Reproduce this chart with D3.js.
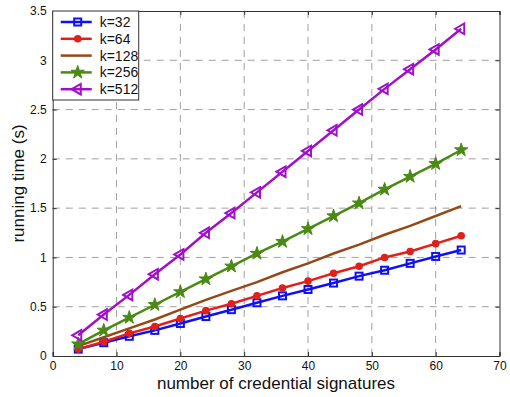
<!DOCTYPE html>
<html><head><meta charset="utf-8">
<script src="https://cdn.jsdelivr.net/npm/d3@7"></script>
<style>body{margin:0;background:#fff;font-family:"Liberation Sans",Arial,sans-serif}</style>
</head><body><svg id="c" width="510" height="397"></svg>
<script>
const xs = [4,8,12,16,20,24,28,32,36,40,44,48,52,56,60,64];
const k32  = [0.07,0.135,0.20,0.26,0.33,0.40,0.47,0.54,0.61,0.675,0.74,0.81,0.87,0.94,1.01,1.075];
const k64  = [0.07,0.145,0.23,0.30,0.38,0.46,0.53,0.61,0.69,0.76,0.84,0.91,1.00,1.06,1.14,1.22];
const k128 = [0.10,0.19,0.28,0.37,0.47,0.57,0.66,0.75,0.85,0.94,1.04,1.13,1.23,1.32,1.42,1.52];
const k256 = [0.12,0.26,0.39,0.52,0.65,0.78,0.91,1.04,1.16,1.29,1.42,1.55,1.69,1.82,1.95,2.09];
const k512 = [0.21,0.42,0.62,0.83,1.03,1.25,1.45,1.66,1.87,2.08,2.29,2.50,2.71,2.91,3.11,3.32];
const seriesNames = ["k=32","k=64","k=128","k=256","k=512"];
const xTicks = [0,10,20,30,40,50,60,70];
const yTicks = [0,0.5,1,1.5,2,2.5,3,3.5];

const series = [
  {name:seriesNames[0], v:k32,  color:"#1010f0", marker:"square"},
  {name:seriesNames[1], v:k64,  color:"#e0201a", marker:"circle"},
  {name:seriesNames[2], v:k128, color:"#944a18", marker:"none"},
  {name:seriesNames[3], v:k256, color:"#4a8a12", marker:"star"},
  {name:seriesNames[4], v:k512, color:"#a010c8", marker:"tri"}
];

const L=52.7,R=499.5,T=11,B=356;
const svg=d3.select("#c");
const x=d3.scaleLinear().domain([0,70]).range([L,R]);
const y=d3.scaleLinear().domain([0,3.5]).range([B,T]);

// grid
const g=svg.append("g");
xTicks.slice(1,-1).forEach(t=>g.append("line").attr("x1",x(t)).attr("x2",x(t)).attr("y1",B).attr("y2",T)
  .attr("stroke","#888").attr("stroke-dasharray","7,6").attr("stroke-width",0.8));
yTicks.slice(1,-1).forEach(t=>g.append("line").attr("x1",L).attr("x2",R).attr("y1",y(t)).attr("y2",y(t))
  .attr("stroke","#888").attr("stroke-dasharray","7,6").attr("stroke-width",0.8));

// axes
svg.append("g").attr("transform",`translate(0,${B})`)
  .call(d3.axisBottom(x).tickValues(xTicks).tickSize(-4).tickPadding(5).tickFormat(d3.format("d")));
svg.append("g").attr("transform",`translate(${L},0)`)
  .call(d3.axisLeft(y).tickValues(yTicks).tickSize(-4).tickPadding(6).tickFormat(d=>String(d)));
svg.append("g").attr("transform",`translate(0,${T})`).call(d3.axisTop(x).tickValues(xTicks).tickSize(-4).tickFormat(""));
svg.append("g").attr("transform",`translate(${R},0)`).call(d3.axisRight(y).tickValues(yTicks).tickSize(-4).tickFormat(""));
svg.selectAll(".domain").attr("stroke","#333");
svg.selectAll(".tick line").attr("stroke","#333");
svg.selectAll(".tick text").attr("font-size","12px").attr("fill","#111").attr("font-family","Liberation Sans, Arial, sans-serif");

// labels
svg.append("text").attr("x",276).attr("y",389).attr("text-anchor","middle")
  .attr("font-size","17px").attr("fill","#111").text("number of credential signatures");
svg.append("text").attr("transform",`translate(24,${(T+B)/2}) rotate(-90)`).attr("text-anchor","middle")
  .attr("font-size","17px").attr("fill","#111").text("running time (s)");

const line=d3.line().x((d,i)=>x(xs[i])).y(d=>y(d));
const star=d3.symbol().type(d3.symbolStar).size(55)();
const tri=d3.symbol().type(d3.symbolTriangle).size(48)();
function drawMarker(sel,m,color){
  if(m==="square") sel.append("rect").attr("x",-3.5).attr("y",-3.5).attr("width",7).attr("height",7)
    .attr("fill","none").attr("stroke",color).attr("stroke-width",2);
  else if(m==="circle") sel.append("circle").attr("r",3.8).attr("fill",color);
  else if(m==="star") sel.append("path").attr("d",star).attr("fill",color).attr("stroke",color).attr("stroke-width",1);
  else if(m==="tri") sel.append("path").attr("d",tri).attr("fill","none").attr("stroke",color).attr("stroke-width",2).attr("transform","rotate(-90)");
}
const plot=svg.append("g");
series.forEach(s=>{
  plot.append("path").datum(s.v).attr("d",line).attr("fill","none").attr("stroke",s.color).attr("stroke-width",2.5);
  if(s.marker!=="none") s.v.forEach((v,i)=>{
    const mg=plot.append("g").attr("transform",`translate(${x(xs[i])},${y(v)})`);
    drawMarker(mg,s.marker,s.color);
  });
});

// legend
const lg=svg.append("g");
lg.append("rect").attr("x",L).attr("y",T).attr("width",86).attr("height",89).attr("fill","#fff").attr("stroke","#333").attr("stroke-width",1);
series.forEach((s,i)=>{
  const yy=T+11+i*16.8;
  lg.append("line").attr("x1",L+8).attr("x2",L+39).attr("y1",yy).attr("y2",yy).attr("stroke",s.color).attr("stroke-width",2.5);
  if(s.marker!=="none"){const mg=lg.append("g").attr("transform",`translate(${L+25},${yy})`);drawMarker(mg,s.marker,s.color);}
  lg.append("text").attr("x",L+47).attr("y",yy+5).attr("font-size","14px").attr("fill","#111").text(s.name);
});
</script></body></html>
